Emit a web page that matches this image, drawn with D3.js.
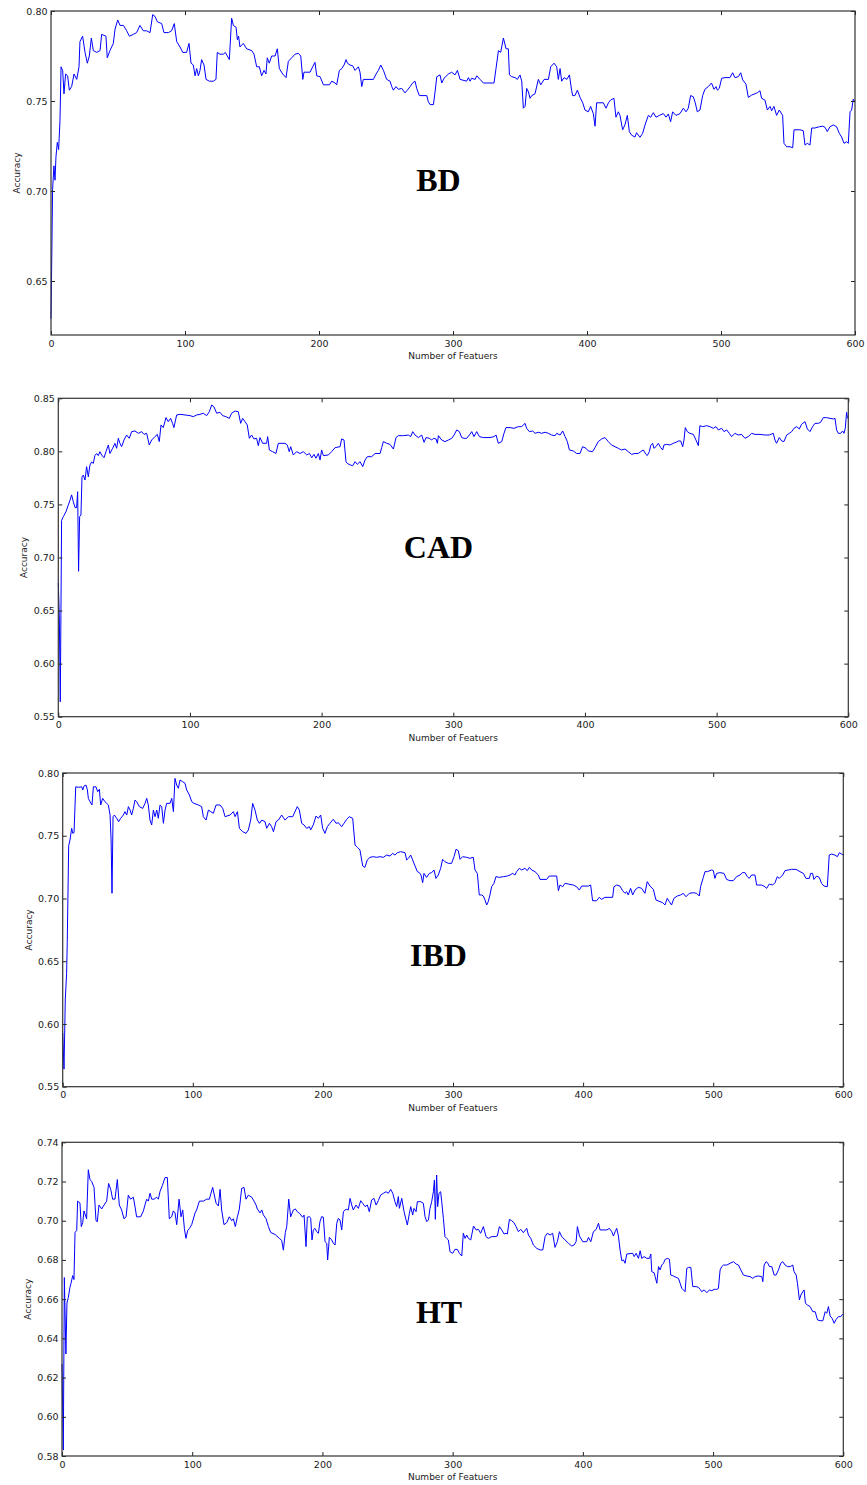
<!DOCTYPE html>
<html>
<head>
<meta charset="utf-8">
<script src="https://cdn.jsdelivr.net/npm/d3@7/dist/d3.min.js"></script>
<style>
  html, body { margin: 0; padding: 0; background: #fff; }
  svg { display: block; }
  .tick text { font-family: "DejaVu Sans", sans-serif; font-size: 9.5px; fill: #1a1a1a; }
  .axis-title { font-family: "DejaVu Sans", sans-serif; font-size: 9px; fill: #1a1a1a; }
  .panel-title { font-family: "Liberation Serif", "Times New Roman", serif; font-weight: bold; font-size: 32px; fill: #000; }
</style>
</head>
<body>
<svg id="chart" width="867" height="1485"></svg>
<script>
// Accuracy against number of selected features, one series per dataset: [features, accuracy]
const bdAccuracy = [[0,.629],[1.2,.701],[2.2,.714],[3,.706],[3.7,.719],[4.7,.727],[5.7,.723],[6.7,.739],[7.5,.769],[8.7,.767],[9.7,.754],[10.9,.765],[12.4,.764],[13.7,.756],[15.4,.758],[17.2,.765],[19.2,.762],[20.9,.769],[21.6,.783],[23.6,.786],[25.4,.777],[27.1,.771],[28.6,.775],[30.1,.785],[31.6,.778],[34.1,.777],[36.6,.778],[37.8,.787],[41,.786],[42,.774],[44,.778],[46.5,.782],[47.8,.790],[49.8,.795],[51.5,.792],[54,.792],[56.5,.789],[58.5,.786],[61.4,.787],[63.9,.788],[66.4,.792],[68.9,.789],[71.4,.789],[73.9,.788],[75.9,.798],[77.6,.797],[79.4,.794],[82.6,.793],[84.3,.788],[87.6,.788],[90,.789],[92,.793],[93.8,.783],[96.3,.780],[98.3,.777],[101.2,.777],[103,.782],[104.5,.771],[106.2,.770],[107.5,.764],[108.7,.768],[110,.764],[111.2,.767],[112.4,.773],[114.2,.770],[115.7,.762],[118.2,.761],[121.1,.761],[123.1,.762],[124.1,.777],[126.1,.776],[128.6,.776],[130.1,.777],[131.6,.775],[133.1,.773],[134.8,.796],[136.1,.792],[138.1,.791],[139.1,.784],[140,.786],[141,.780],[143.5,.782],[146,.779],[149.8,.778],[151.5,.776],[153.5,.769],[155.5,.769],[157.2,.764],[159,.767],[160.4,.765],[161.4,.774],[162.9,.771],[164.7,.775],[167.2,.775],[168.9,.779],[170.4,.768],[172.9,.765],[175.4,.763],[177.1,.772],[179.6,.774],[182.1,.776],[184.6,.7765],[186.4,.775],[187.9,.762],[188.8,.766],[193.3,.766],[195.3,.769],[197,.7715],[198.3,.764],[200.8,.7635],[203.3,.759],[207.8,.759],[209.5,.761],[212,.760],[213.2,.759],[215.2,.767],[217,.768],[218.7,.770],[220.2,.773],[221.2,.771],[223.2,.770],[225.2,.7695],[226.9,.767],[229.4,.769],[230.6,.766],[231.9,.758],[233.1,.762],[240.6,.762],[242.6,.765],[244.3,.767],[246.1,.770],[248.1,.767],[250.5,.762],[253,.761],[254.3,.758],[255.5,.756],[257.5,.758],[259.2,.7565],[261.7,.757],[264.2,.7545],[265.9,.756],[268,.758],[269.9,.760],[271.7,.761],[272.9,.757],[274.9,.753],[280.4,.753],[281.6,.7496],[282.9,.748],[285.4,.748],[286.6,.755],[287.9,.7635],[290.3,.7645],[291.6,.760],[293.3,.7626],[296.6,.765],[299,.766],[301.5,.7645],[303.3,.767],[305.3,.762],[310.2,.761],[311.5,.763],[312.7,.761],[313.9,.7626],[316.5,.762],[317.7,.764],[320.2,.762],[322.7,.760],[330.6,.760],[332.1,.768],[333.9,.778],[335.6,.777],[337.6,.785],[339.6,.779],[341.3,.779],[342.1,.7645],[343.8,.7635],[346.3,.763],[348,.762],[350,.7645],[351.3,.761],[352.5,.746],[353.8,.747],[355,.757],[356.3,.755],[357.5,.7515],[358.8,.753],[361.2,.754],[363.7,.762],[365.5,.759],[368,.762],[371.2,.762],[372.9,.769],[375.4,.771],[377.4,.769],[378.6,.762],[379.9,.768],[381.1,.761],[382.9,.763],[384.9,.762],[386.9,.7645],[388.5,.756],[389.3,.753],[391,.753],[392.8,.756],[394.8,.752],[396.8,.749],[398.5,.745],[401,.744],[402.7,.747],[404.7,.743],[406,.736],[407.2,.749],[412.2,.749],[414.2,.746],[416,.749],[417.6,.7505],[420.1,.7515],[421.6,.741],[423.4,.744],[424.6,.742],[426.6,.734],[428.3,.7367],[430.1,.742],[431.6,.733],[433.3,.731],[435.8,.730],[437,.7324],[439.5,.7298],[441.5,.732],[443.3,.7367],[445.8,.742],[447.5,.741],[449.5,.7435],[451.5,.741],[454,.742],[457,.743],[459,.741],[460.7,.7428],[462.4,.7385],[463.9,.744],[466.4,.742],[469.4,.743],[471.9,.746],[473.9,.744],[475.6,.746],[477.3,.753],[479.3,.7524],[480.8,.749],[482.3,.744],[484.3,.745],[486.3,.753],[488,.7565],[490.5,.758],[492.9,.760],[494.8,.7565],[496.3,.758],[497.3,.756],[498.7,.757],[500.5,.7626],[503,.763],[506.7,.763],[508.7,.7657],[510.4,.763],[512.9,.7635],[514.7,.7657],[516.2,.7617],[518.6,.7594],[520.4,.752],[522.9,.7533],[525.4,.754],[527.1,.7546],[529.1,.7557],[530.3,.7515],[532.8,.7505],[534.6,.745],[536.6,.747],[537.8,.7446],[539.5,.747],[541.5,.742],[543.5,.745],[546,.742],[547,.7265],[549,.7246],[551.5,.7246],[553.5,.724],[554.5,.734],[559,.734],[561.4,.7335],[562.7,.7255],[564.4,.7265],[566.4,.7255],[567.7,.735],[570.1,.735],[573.4,.7357],[575.9,.736],[577.6,.7354],[579.3,.733],[581.3,.7357],[583.8,.7367],[586.3,.7357],[588.3,.732],[590,.730],[591.8,.7265],[593.8,.7274],[595,.7265],[596.3,.744],[597.5,.745],[598.7,.751],[600,.7496]];

const cadAccuracy = [[0,.676],[0.8,.643],[1.5,.564],[2,.646],[2.5,.735],[3.8,.7385],[5.8,.743],[7.6,.7495],[8.9,.754],[10.1,.759],[11.4,.7526],[12.7,.747],[13.9,.747],[14.7,.762],[15.4,.687],[16.2,.7385],[17.2,.740],[18,.776],[19,.7777],[20.3,.773],[21.5,.7856],[22.8,.776],[24,.787],[25.3,.790],[26.6,.7887],[27.8,.796],[29.1,.798],[30.4,.796],[31.6,.7997],[32.9,.7966],[34.7,.794],[36.2,.7997],[38,.806],[39.2,.798],[41.3,.8029],[43,.8076],[44.3,.8029],[45.6,.8123],[46.8,.8076],[48.1,.8044],[49.9,.8107],[51.9,.8154],[53.9,.8123],[55.7,.8186],[58.2,.8192],[60.8,.817],[63.3,.8186],[65.1,.816],[67.1,.817],[69.1,.806],[70.9,.8107],[73.4,.8139],[75.2,.816],[76.7,.8092],[78,.8249],[79.7,.8224],[81.8,.8318],[83.5,.828],[85.3,.8311],[86.8,.8264],[87.8,.8224],[89.9,.8343],[92.4,.8349],[96.2,.8343],[100,.8337],[102.5,.8327],[105.1,.8343],[107.6,.8349],[110.1,.8359],[112.7,.8337],[114.7,.8374],[116.5,.8437],[118.2,.842],[120.3,.8359],[122.8,.8368],[124.8,.8337],[127.3,.8327],[129.9,.8311],[131.6,.8359],[134.2,.838],[136.7,.8374],[138.5,.8264],[140,.8311],[141.8,.828],[143.5,.8249],[145.1,.8123],[146.8,.8154],[148.6,.8117],[150.6,.8123],[151.9,.8054],[153.2,.813],[155.2,.8076],[158.2,.8076],[159,.8139],[160.3,.8013],[162.8,.7997],[165.3,.798],[167.1,.8076],[172.2,.8076],[173.9,.806],[175.4,.7997],[176.5,.8044],[178.5,.7966],[181,.7997],[183.6,.798],[186.1,.7997],[188.7,.7966],[190.7,.798],[192.5,.794],[194.2,.7972],[195.7,.7935],[197.5,.798],[198.8,.7919],[200,.8013],[201.3,.796],[205.1,.7966],[207.6,.7997],[210.2,.8035],[214,.8044],[215.2,.8117],[217,.8107],[218.5,.7903],[219.5,.7887],[221.6,.7872],[223.6,.7865],[225.4,.7903],[227.1,.7878],[229.2,.7903],[231.2,.7856],[233,.7919],[234.7,.795],[238,.795],[240.6,.798],[244.4,.798],[245.6,.8035],[246.9,.8092],[249.4,.8076],[251.9,.8066],[254.5,.8022],[256.5,.813],[258.3,.8148],[262.1,.8148],[265.9,.8154],[267.6,.8139],[269.2,.8186],[270.9,.8154],[273.5,.813],[276,.8154],[277.8,.8085],[279.3,.813],[281.8,.8123],[283.6,.8107],[284.9,.8123],[286.9,.8117],[287.9,.8076],[288.7,.8148],[291.2,.8107],[293.7,.8092],[296.3,.8107],[298.8,.8123],[300.6,.8154],[302.6,.8202],[304.6,.8186],[306.4,.813],[308.2,.8123],[310.2,.8123],[312.2,.8154],[314,.8186],[315.7,.8139],[317.8,.8186],[319.8,.8139],[322.8,.813],[327.9,.813],[330.9,.8139],[332.5,.8154],[334.2,.8076],[336.8,.8092],[338.5,.817],[340,.8224],[343.1,.8224],[346.1,.8217],[349.4,.8233],[351.9,.8233],[354.5,.8264],[355.7,.8217],[357.8,.8186],[360.3,.8192],[362.1,.817],[364.6,.818],[367.1,.817],[369.7,.818],[372.2,.817],[374.7,.8154],[377.3,.8148],[378.5,.817],[381.1,.8154],[383.1,.8192],[384.9,.8139],[386.6,.8092],[388.2,.8013],[391.1,.8004],[393.7,.798],[396.2,.798],[398.2,.8044],[400.8,.8029],[402.5,.8004],[405.8,.7997],[407.6,.8035],[410.1,.8092],[412.7,.8117],[415.2,.813],[417.7,.8092],[420.2,.806],[422.8,.8044],[425.3,.8029],[427.8,.8013],[430.4,.8022],[432.9,.7997],[435.4,.7972],[438,.798],[440.5,.798],[442.3,.7997],[444.3,.8013],[446.3,.7972],[447.3,.796],[448.9,.7997],[449.9,.8054],[451.4,.8076],[452.4,.8029],[453.9,.8044],[455.7,.8076],[457.5,.8035],[459,.8013],[460,.806],[462,.8066],[464.5,.806],[467.1,.8076],[469.1,.8085],[470.9,.8098],[472.7,.8098],[474.2,.8044],[475.2,.8107],[476.2,.8224],[477.7,.8186],[479.7,.817],[482.3,.816],[484.3,.8107],[486.1,.8054],[487.3,.8242],[489.4,.8233],[492.4,.8242],[494.9,.8233],[497.5,.8217],[499.5,.8233],[501.3,.8202],[503.8,.8217],[505.6,.8186],[507.6,.8202],[509.6,.817],[511.4,.8139],[513.9,.817],[516.4,.8154],[518.9,.816],[521.5,.8123],[524,.8139],[526.6,.817],[529.1,.816],[532.9,.816],[536.7,.8154],[540,.8154],[543,.817],[544.3,.8107],[545.5,.8076],[547.6,.813],[549.4,.8098],[551.1,.8092],[553.2,.8154],[555.2,.817],[557,.8186],[558.7,.8217],[560.8,.8233],[562.8,.8211],[564.5,.8255],[567.1,.828],[568.9,.8211],[570.9,.8186],[572.9,.8233],[574.7,.8264],[577.2,.8264],[579,.8274],[581,.8318],[583.5,.8318],[586.1,.8311],[588.6,.8305],[589.9,.8311],[591.1,.8202],[592.4,.817],[594.2,.817],[595.7,.8192],[596.7,.817],[597.7,.8217],[598.7,.8368],[599.4,.8311]];

const ibdAccuracy = [[0,.593],[1,.564],[2,.62],[3,.64],[3.5,.665],[4,.70],[4.6,.742],[5.6,.7466],[6.9,.7559],[7.7,.752],[8.7,.7524],[10,.789],[12,.7886],[14.6,.789],[15.4,.7865],[16.4,.7896],[17.9,.7904],[19,.7865],[19.7,.7798],[21,.7771],[22.5,.7745],[23.6,.789],[25.6,.789],[26.9,.7851],[28.2,.787],[29.2,.7745],[30.7,.7798],[32.5,.7771],[33.8,.7758],[35.1,.7745],[36.4,.7665],[37.2,.7466],[37.9,.7041],[38.7,.7652],[39.7,.7665],[41.5,.7639],[43,.7612],[44.6,.7639],[46.6,.7665],[47.9,.7692],[49.2,.7665],[50.5,.7732],[51.8,.7705],[53,.7665],[54.3,.7718],[55.6,.7785],[56.9,.7771],[58.9,.7732],[61.5,.7718],[63.3,.7758],[64.6,.7798],[65.8,.7745],[67.1,.7625],[68.4,.7586],[69.7,.7705],[71,.7652],[72.3,.7705],[73.5,.7639],[74.8,.7745],[76.1,.7732],[77.4,.7599],[78.7,.7705],[79.9,.7758],[82.5,.7758],[83.8,.7798],[85.1,.7692],[86.3,.7957],[87.6,.7904],[88.9,.7878],[90.2,.7944],[92.2,.7931],[94,.7918],[95.3,.7865],[97.4,.7825],[99.2,.7771],[100.9,.7758],[104.3,.7745],[106.8,.7732],[108.1,.7652],[110.2,.7625],[112,.7705],[113.8,.7692],[115.8,.7679],[117.9,.7745],[120.9,.7745],[123,.7718],[124.8,.7652],[128.6,.7665],[131.2,.7692],[132.5,.7652],[134.3,.7692],[135.8,.7559],[138.4,.7532],[140.9,.7519],[142.7,.7546],[144.5,.7625],[146,.7758],[147.8,.7705],[149.6,.7625],[151.2,.7599],[153,.7625],[155.5,.7612],[156.8,.7559],[158.9,.7599],[160.6,.7572],[162,.7532],[164,.7612],[165.8,.7625],[168.3,.7665],[170.9,.7625],[173.5,.7652],[176.8,.7652],[180.3,.7732],[181.9,.7705],[183.7,.7599],[185.5,.7586],[187.5,.7559],[189.6,.7572],[190.6,.7546],[192.6,.7586],[194.7,.7657],[196.5,.7639],[198.3,.7665],[199.8,.7559],[201.6,.7519],[203.4,.7572],[205.4,.7599],[208,.7631],[210.1,.7599],[211.9,.7604],[214.4,.7572],[216.2,.7599],[218.3,.7631],[220.3,.7652],[222.9,.7639],[224.7,.7426],[226.5,.7408],[228.5,.7386],[230.6,.7259],[232.3,.7248],[234.1,.7307],[236.2,.7328],[238.7,.7333],[241.3,.7328],[243.9,.7333],[246.4,.7328],[249,.7346],[251.6,.7338],[253.6,.736],[255.4,.7346],[257.2,.7365],[259.8,.7373],[263.1,.7365],[264.4,.7307],[265.7,.732],[267.5,.7346],[269,.7307],[270.8,.7259],[272.6,.7214],[274.1,.7206],[275.4,.7187],[276.7,.7126],[277.7,.72],[279.7,.7168],[281.8,.72],[283.6,.7206],[285.4,.7227],[286.9,.716],[288.7,.7187],[290.5,.724],[292,.7312],[293.8,.7293],[296.4,.728],[298.9,.728],[300.8,.7333],[302.3,.7392],[304.1,.7381],[305.4,.7312],[307.4,.7333],[310.5,.7328],[313,.732],[315.6,.7328],[316.9,.7227],[318.7,.72],[320.2,.7028],[322,.7028],[323.3,.702],[324.6,.6988],[325.9,.6948],[327.1,.6975],[328.4,.7028],[329.7,.7094],[331.5,.7121],[333,.7174],[335.6,.7168],[338.7,.7174],[341.8,.7179],[343.8,.7187],[345.9,.72],[347.6,.7187],[348.9,.7214],[351,.724],[352.8,.7227],[355.3,.724],[357.1,.7222],[358.7,.7248],[360.5,.7227],[363,.7214],[365.6,.7187],[366.9,.7152],[372,.7152],[374,.7179],[379.7,.7179],[381,.7062],[382.2,.7107],[384.3,.7094],[386.1,.7121],[388.6,.7115],[392.5,.7107],[395,.7094],[397.1,.7067],[398.9,.7099],[404,.7099],[405.8,.7107],[407.3,.6982],[410.4,.6982],[412.4,.7009],[414.2,.6993],[416.8,.7009],[422.7,.7009],[423.7,.7094],[425.8,.7107],[428.3,.7099],[430.4,.7062],[432.2,.7041],[433.5,.7054],[434.7,.7028],[436.5,.7081],[438.1,.7028],[439.9,.7067],[442.4,.7089],[445,.7081],[447.5,.7041],[449.3,.7134],[451.4,.7099],[454,.7073],[456,.6988],[459.1,.6975],[461.1,.6967],[462.9,.6948],[464.7,.7001],[466.3,.6975],[468,.6948],[469.8,.7001],[472.4,.702],[475,.7028],[477,.7041],[479.1,.7014],[481.6,.7041],[484.7,.7046],[487.3,.7041],[489.3,.702],[490.3,.7094],[492.4,.7168],[493.7,.7214],[495.5,.7214],[498.8,.7227],[500.1,.7222],[501.3,.716],[502.6,.72],[505.2,.7206],[508.3,.72],[510.3,.7152],[512.9,.7142],[515.4,.7142],[518,.7174],[520.6,.7187],[522.6,.7206],[524.4,.7206],[526.2,.7174],[527.7,.716],[529.5,.7187],[532.1,.7187],[533.4,.7107],[537.2,.7107],[539,.7099],[541.1,.7081],[543.1,.7115],[545.7,.7107],[547.5,.7126],[549.3,.7174],[550.8,.716],[553.4,.7187],[555.2,.7222],[557.7,.7227],[560.3,.7232],[563.6,.7232],[566.7,.7214],[569.3,.72],[571.3,.716],[573.9,.716],[574.9,.72],[576.4,.72],[577.4,.7152],[579.5,.7179],[581.5,.7168],[583.3,.7121],[585.1,.7099],[587.7,.7094],[589.2,.7346],[591,.7354],[593.6,.7346],[595.4,.7333],[597,.7365],[598.7,.7354],[600,.7346]];

const htAccuracy = [[0,.627],[1,.583],[1.8,.671],[3,.632],[3.8,.658],[4.9,.661],[6.1,.666],[6.9,.668],[8.2,.672],[9.2,.670],[10,.694],[11.3,.695],[12,.710],[13.8,.709],[14.8,.697],[15.9,.699],[16.9,.705],[17.9,.703],[18.9,.701],[20.2,.726],[21.5,.721],[22.8,.720],[24.6,.717],[26.1,.700],[27.1,.6995],[28.4,.708],[30.5,.706],[32.3,.708],[34.3,.710],[35.8,.719],[37.4,.716],[38.9,.711],[40.7,.711],[42.5,.721],[44,.708],[45.8,.7055],[47.6,.701],[49.2,.702],[50.9,.713],[52.7,.711],[54.8,.712],[56.1,.707],[57.3,.702],[60.4,.702],[62.5,.705],[63.7,.708],[65,.711],[66.3,.710],[67.6,.714],[68.9,.711],[70.7,.711],[72.7,.712],[74,.711],[75.3,.715],[77.1,.718],[79.1,.722],[80.9,.722],[82.4,.701],[84.2,.702],[85.5,.705],[86.8,.704],[88.1,.698],[89.9,.711],[91.4,.702],[92.7,.7055],[94,.696],[95.2,.691],[96.5,.695],[97.8,.696],[99.6,.698],[102.2,.704],[103.4,.7055],[105.5,.710],[108.5,.710],[111.1,.711],[113.2,.711],[114.4,.714],[115.7,.717],[118.3,.709],[120.1,.7075],[121.4,.716],[122.6,.7055],[124.4,.698],[126.5,.699],[128.5,.702],[130.3,.700],[131.6,.701],[133.1,.697],[134.7,.702],[136.2,.706],[138,.7165],[139.8,.717],[141.3,.711],[143.1,.713],[145.7,.712],[147.5,.710],[149,.708],[150,.706],[152.1,.704],[153.4,.7055],[154.6,.703],[156.7,.701],[158.5,.697],[160.3,.694],[163.6,.693],[166.9,.691],[168.7,.690],[170,.685],[171.5,.694],[172.6,.697],[174.1,.711],[175.6,.702],[177.7,.7055],[179.2,.706],[180.7,.7046],[182.3,.7038],[184.8,.7018],[185.9,.7029],[187.4,.6868],[188.4,.7018],[190,.7021],[191,.7012],[192,.6902],[193,.6953],[194.3,.6961],[195.6,.6944],[196.9,.6936],[198.1,.6995],[199.4,.7021],[200.7,.7018],[202,.6893],[203.3,.6885],[204,.68],[205.3,.6915],[207.1,.6902],[208.4,.6885],[209.7,.6876],[211,.6987],[212.2,.7012],[213.5,.7004],[214.8,.6953],[216.1,.7046],[217.3,.7055],[218.6,.7058],[219.9,.7055],[221.2,.7114],[222.5,.708],[223.7,.7055],[225.8,.708],[227.6,.7063],[229.4,.7102],[230.9,.7089],[232.7,.7072],[234.5,.708],[236,.7046],[237.8,.7106],[239.6,.7114],[241.2,.708],[242.9,.7102],[244.7,.7131],[246.8,.714],[248.8,.7148],[250.6,.714],[252.4,.716],[254,.714],[255.7,.7097],[257,.7072],[258.3,.7123],[259.1,.7063],[260.9,.7114],[262.7,.7046],[264.2,.7004],[265.2,.6978],[266.8,.7038],[267.8,.7072],[269.3,.7029],[270.3,.7063],[271.9,.7046],[272.9,.7097],[275.5,.7097],[277.5,.7089],[278.8,.7021],[280.1,.6995],[281.4,.7004],[282.6,.7063],[283.9,.7097],[285.2,.7148],[286,.7208],[286.7,.7007],[287.7,.7233],[288.5,.7072],[289.5,.714],[290.8,.7148],[291.6,.7097],[292.9,.7012],[294.1,.6919],[295.4,.691],[296.7,.6902],[298,.6842],[300,.6834],[301.8,.6854],[303.6,.6854],[305.2,.6834],[307,.682],[308.2,.6936],[309.5,.691],[310.8,.6927],[312.1,.691],[313.9,.6902],[316,.6973],[318,.6953],[319.8,.6956],[321.5,.6936],[323.6,.697],[325.6,.6919],[327.4,.691],[330,.6919],[332.6,.6919],[334.3,.6922],[335.9,.697],[337.7,.6953],[339.5,.6932],[341,.6936],[342,.6932],[343.6,.7007],[345.4,.7],[347.1,.699],[348.7,.697],[350.5,.6944],[352.3,.6956],[354.3,.6939],[356.9,.6961],[358.2,.6927],[360,.691],[362,.6876],[364.6,.6859],[367.1,.6851],[369.2,.6851],[371,.6919],[372.7,.6936],[374.8,.6927],[376.8,.6936],[378.6,.6864],[380.4,.6893],[382,.6944],[383.8,.6919],[386.3,.6902],[388.9,.6885],[391.4,.6871],[393.2,.6876],[394.8,.6893],[395.8,.697],[397.4,.6922],[399.9,.6893],[403,.6893],[404.3,.6915],[406.1,.6893],[408.1,.6944],[410.2,.6956],[412,.6987],[413.2,.6953],[418.4,.6953],[420.4,.6961],[422.2,.6944],[423.5,.6922],[424.8,.6944],[426,.6961],[427.3,.6922],[428.6,.6851],[429.9,.6796],[431.2,.68],[432.4,.6783],[433.7,.683],[438.3,.6834],[439.4,.6817],[440.9,.6834],[442.7,.6808],[444,.6847],[445.2,.6808],[447,.6817],[449.1,.6808],[451.1,.6808],[452.2,.683],[452.9,.674],[454.7,.6735],[455.5,.6715],[456.8,.6681],[458.1,.6766],[459.3,.6749],[460.6,.6774],[461.9,.6783],[463.2,.6803],[465,.6808],[466.5,.6803],[467.5,.6723],[469.6,.6718],[471.6,.6711],[473.4,.6706],[474.7,.6681],[476,.6655],[477.2,.6647],[478.5,.6638],[479.8,.6757],[481.1,.6762],[482.9,.6762],[484.4,.6664],[487,.6664],[488.8,.666],[490,.665],[491.3,.6638],[493.1,.6647],[495.2,.6633],[497.2,.6647],[499,.6643],[500.8,.665],[502.8,.665],[504.1,.6655],[505.4,.6749],[506.7,.6766],[508,.6774],[510.5,.6774],[513.1,.6783],[515.7,.6791],[517.7,.6779],[519.5,.6774],[521.3,.6749],[523.3,.6723],[525.9,.6718],[528.4,.6715],[530.5,.6706],[532.3,.6715],[534.8,.6718],[537.4,.6715],[538.2,.6689],[539.2,.6774],[540.7,.6791],[541.8,.6786],[543.3,.6766],[545.1,.6766],[546.9,.6723],[548.4,.6723],[550.2,.6749],[552,.6783],[553.5,.6791],[555.3,.6774],[557.1,.6766],[559.2,.6766],[561.2,.6774],[562.2,.674],[563.8,.6723],[564.8,.6681],[566.3,.6596],[567.4,.6621],[568.9,.6638],[569.9,.6647],[570.9,.6579],[572.5,.657],[574.5,.6562],[576.6,.6536],[578.4,.6536],[580.2,.6494],[582.2,.649],[584.3,.649],[586.1,.6536],[587.3,.6528],[588.6,.6562],[589.9,.6514],[591.4,.6502],[593,.6477],[594.5,.6497],[596.3,.6511],[598.1,.6511],[599.6,.6524]];

// Tick values
const featureTicks = [0, 100, 200, 300, 400, 500, 600];
const bdTicks  = [0.65, 0.70, 0.75, 0.80];
const cadTicks = [0.55, 0.60, 0.65, 0.70, 0.75, 0.80, 0.85];
const ibdTicks = [0.55, 0.60, 0.65, 0.70, 0.75, 0.80];
const htTicks  = [0.58, 0.60, 0.62, 0.64, 0.66, 0.68, 0.70, 0.72, 0.74];

const panelNames = ["BD", "CAD", "IBD", "HT"];
const xLabel = "Number of Featuers";
const yLabel = "Accuracy";

// Panel layout (plot rectangles in px) and title anchor points
const panels = [
  { name: panelNames[0], data: bdAccuracy,  yDomain: [0.62, 0.80], yTicks: bdTicks,  box: { l: 51,   t: 11,     r: 855,   b: 335 },    title: [438.5, 190.5] },
  { name: panelNames[1], data: cadAccuracy, yDomain: [0.55, 0.85], yTicks: cadTicks, box: { l: 58.3, t: 398.3,  r: 848.3, b: 716.7 },  title: [438.5, 558.3] },
  { name: panelNames[2], data: ibdAccuracy, yDomain: [0.55, 0.80], yTicks: ibdTicks, box: { l: 62.7, t: 773,    r: 843.3, b: 1086.7 }, title: [438.5, 966] },
  { name: panelNames[3], data: htAccuracy,  yDomain: [0.58, 0.74], yTicks: htTicks,  box: { l: 62,   t: 1142.3, r: 843.3, b: 1456 },   title: [439,   1322.7] }
];

const svg = d3.select("#chart");
const fmt = d3.format(".2f");
const TICK = 4;

panels.forEach(p => {
  const { l, t, r, b } = p.box;
  const w = r - l, h = b - t;
  const x = d3.scaleLinear().domain([0, 600]).range([0, w]);
  const y = d3.scaleLinear().domain(p.yDomain).range([h, 0]);

  const g = svg.append("g").attr("transform", `translate(${l},${t})`);

  // series line
  const line = d3.line().x(d => x(d[0])).y(d => y(d[1]));
  g.append("path")
    .datum(p.data)
    .attr("fill", "none")
    .attr("stroke", "#0000ff")
    .attr("stroke-width", 1)
    .attr("stroke-linejoin", "round")
    .attr("d", line);

  // axes with inward ticks on all four sides
  const bottom = g.append("g").attr("transform", `translate(0,${h})`)
    .call(d3.axisBottom(x).tickValues(featureTicks).tickSize(-TICK).tickPadding(5).tickFormat(d3.format("d")));
  const top = g.append("g")
    .call(d3.axisTop(x).tickValues(featureTicks).tickSize(-TICK).tickFormat(""));
  const left = g.append("g")
    .call(d3.axisLeft(y).tickValues(p.yTicks).tickSize(-TICK).tickPadding(3.5).tickFormat(fmt));
  const right = g.append("g").attr("transform", `translate(${w},0)`)
    .call(d3.axisRight(y).tickValues(p.yTicks).tickSize(-TICK).tickFormat(""));

  [bottom, top, left, right].forEach(a => {
    a.select(".domain").remove();
    a.selectAll(".tick line").attr("stroke", "#222").attr("stroke-width", 1);
    a.attr("font-family", null).attr("font-size", null);
  });

  // frame
  g.append("rect")
    .attr("x", 0).attr("y", 0).attr("width", w).attr("height", h)
    .attr("fill", "none").attr("stroke", "#333").attr("stroke-width", 1.2);

  // axis titles
  g.append("text").attr("class", "axis-title")
    .attr("x", w / 2).attr("y", h + 24)
    .attr("text-anchor", "middle")
    .text(xLabel);
  g.append("text").attr("class", "axis-title")
    .attr("transform", `translate(-34,${h / 2}) rotate(-90)`)
    .attr("text-anchor", "middle")
    .attr("dy", "0.35em")
    .text(yLabel);

  // dataset name inside the plot
  svg.append("text").attr("class", "panel-title")
    .attr("x", p.title[0]).attr("y", p.title[1])
    .attr("text-anchor", "middle")
    .text(p.name);
});
</script>
</body>
</html>
